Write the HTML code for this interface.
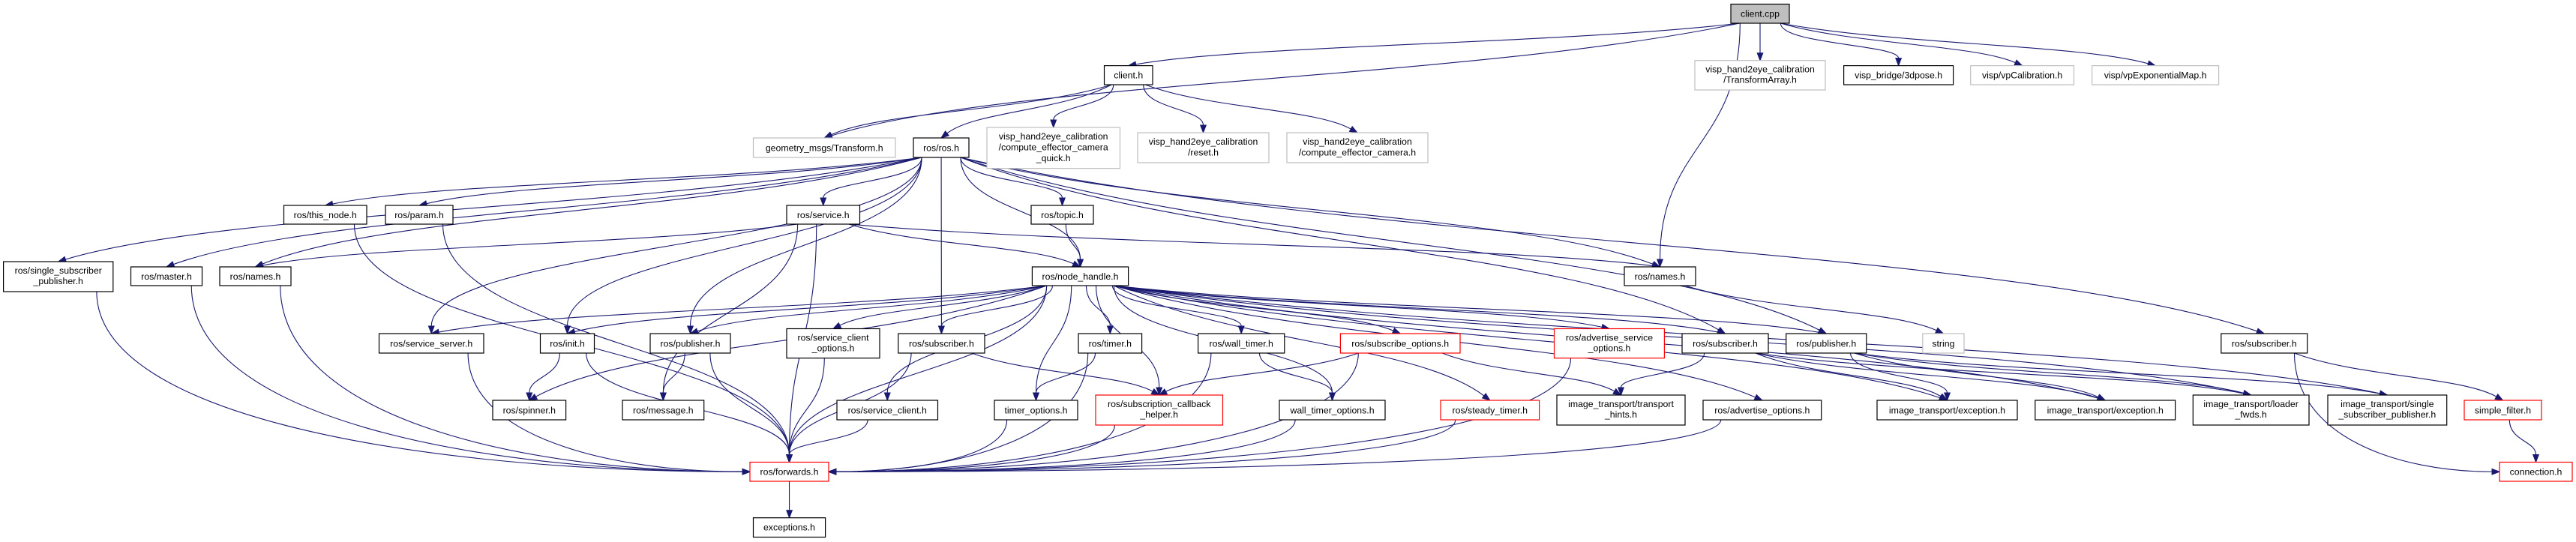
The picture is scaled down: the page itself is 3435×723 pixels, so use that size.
<!DOCTYPE html>
<html><head><meta charset="utf-8">
<style>
html,body{margin:0;padding:0;background:#fff;}
svg{display:block;}
text{font-family:"Liberation Sans",Arial,sans-serif;font-size:12.3px;fill:#000;text-anchor:middle;}
rect{fill:#fff;stroke:#000;stroke-width:1.2;}
rect.g{stroke:#bfbfbf;}
rect.r{stroke:#ff0000;}
rect.m{fill:#bfbfbf;}
</style></head>
<body>
<svg id="s" width="3435" height="723" viewBox="0 0 3435 723" xmlns="http://www.w3.org/2000/svg">
<g id="edges" fill="none" stroke="#191970" stroke-width="1.1"></g>
<g id="heads" fill="#191970" stroke="#191970" stroke-width="1"></g>
<g id="nodes">
<g id="cpp"><rect class="m" x="2308" y="5.5" width="78" height="25.5"/><text x="2347" y="22.5">client.cpp</text></g>
<g id="ch"><rect x="1472.5" y="87.6" width="64.5" height="25.4"/><text x="1504.7" y="104.5">client.h</text></g>
<g id="geo"><rect class="g" x="1004.5" y="184" width="189.5" height="26"/><text x="1099.2" y="201.5">geometry_msgs/Transform.h</text></g>
<g id="ta"><rect class="g" x="2260" y="80.7" width="174" height="39.3"/><text x="2347" y="96.5">visp_hand2eye_calibration</text><text x="2347" y="110.5">/TransformArray.h</text></g>
<g id="pose"><rect x="2458.6" y="87.6" width="146" height="25.4"/><text x="2531.6" y="104.5">visp_bridge/3dpose.h</text></g>
<g id="vpc"><rect class="g" x="2627.7" y="87.6" width="137.8" height="25.4"/><text x="2696.6" y="104.5">visp/vpCalibration.h</text></g>
<g id="vpe"><rect class="g" x="2789.6" y="87.6" width="169" height="25.4"/><text x="2874.1" y="104.5">visp/vpExponentialMap.h</text></g>
<g id="ros"><rect x="1218" y="184" width="74" height="26"/><text x="1255" y="201.5">ros/ros.h</text></g>
<g id="q"><rect class="g" x="1316" y="170" width="177.5" height="54.6"/><text x="1404.7" y="186">visp_hand2eye_calibration</text><text x="1404.7" y="200.5">/compute_effector_camera</text><text x="1404.7" y="215">_quick.h</text></g>
<g id="rst"><rect class="g" x="1517" y="177" width="175" height="40"/><text x="1604.5" y="193">visp_hand2eye_calibration</text><text x="1604.5" y="207.5">/reset.h</text></g>
<g id="cec"><rect class="g" x="1716" y="177" width="188" height="40"/><text x="1810" y="193">visp_hand2eye_calibration</text><text x="1810" y="207.5">/compute_effector_camera.h</text></g>
<g id="tn"><rect x="378.5" y="274" width="110.5" height="25"/><text x="433.7" y="291">ros/this_node.h</text></g>
<g id="par"><rect x="514" y="274" width="90" height="25"/><text x="559" y="291">ros/param.h</text></g>
<g id="srv"><rect x="1049" y="274" width="97.5" height="25"/><text x="1097.7" y="291">ros/service.h</text></g>
<g id="top"><rect x="1375" y="274" width="83" height="25"/><text x="1416.5" y="291">ros/topic.h</text></g>
<g id="ssp"><rect x="4.6" y="349" width="146.2" height="40"/><text x="77.7" y="365">ros/single_subscriber</text><text x="77.7" y="379">_publisher.h</text></g>
<g id="mas"><rect x="174.5" y="356" width="95" height="25"/><text x="222" y="373">ros/master.h</text></g>
<g id="nmL"><rect x="293" y="356" width="95" height="25"/><text x="340.5" y="373">ros/names.h</text></g>
<g id="nh"><rect x="1376.4" y="356" width="128.2" height="25"/><text x="1440.5" y="373">ros/node_handle.h</text></g>
<g id="nmR"><rect x="2166" y="356" width="95" height="25"/><text x="2213.5" y="373">ros/names.h</text></g>
<g id="ss"><rect x="505.5" y="445" width="139.5" height="26"/><text x="575.2" y="462.5">ros/service_server.h</text></g>
<g id="ini"><rect x="720.5" y="445" width="72" height="26"/><text x="756.5" y="462.5">ros/init.h</text></g>
<g id="pubL"><rect x="867" y="445" width="107" height="26"/><text x="920.5" y="462.5">ros/publisher.h</text></g>
<g id="sco"><rect x="1049" y="438.5" width="124" height="39.2"/><text x="1111" y="454.5">ros/service_client</text><text x="1111" y="468.5">_options.h</text></g>
<g id="subL"><rect x="1197.8" y="445" width="115.2" height="26"/><text x="1255.4" y="462.5">ros/subscriber.h</text></g>
<g id="tim"><rect x="1438" y="445" width="84.6" height="26"/><text x="1480.3" y="462.5">ros/timer.h</text></g>
<g id="wt"><rect x="1597.6" y="445" width="115.2" height="26"/><text x="1655.2" y="462.5">ros/wall_timer.h</text></g>
<g id="so"><rect class="r" x="1787.4" y="445" width="159.6" height="26"/><text x="1867.2" y="462.5">ros/subscribe_options.h</text></g>
<g id="aso"><rect class="r" x="2072.5" y="438.5" width="146.9" height="39.2"/><text x="2146" y="454.5">ros/advertise_service</text><text x="2146" y="468.5">_options.h</text></g>
<g id="subM"><rect x="2243" y="445" width="115" height="26"/><text x="2300.5" y="462.5">ros/subscriber.h</text></g>
<g id="pubM"><rect x="2381.7" y="445" width="107.1" height="26"/><text x="2435.2" y="462.5">ros/publisher.h</text></g>
<g id="str"><rect class="g" x="2563.8" y="445" width="55.2" height="26"/><text x="2591.4" y="462.5">string</text></g>
<g id="subR"><rect x="2961.8" y="445" width="114.9" height="26"/><text x="3019.2" y="462.5">ros/subscriber.h</text></g>
<g id="spin"><rect x="657" y="534" width="97.6" height="26"/><text x="705.8" y="551.5">ros/spinner.h</text></g>
<g id="msg"><rect x="830" y="534" width="108.7" height="26"/><text x="884.3" y="551.5">ros/message.h</text></g>
<g id="sc"><rect x="1116" y="534" width="134.5" height="26"/><text x="1183.2" y="551.5">ros/service_client.h</text></g>
<g id="to"><rect x="1326" y="534" width="111" height="26"/><text x="1381.5" y="551.5">timer_options.h</text></g>
<g id="sch"><rect class="r" x="1461" y="527" width="169.5" height="40"/><text x="1545.7" y="543">ros/subscription_callback</text><text x="1545.7" y="557">_helper.h</text></g>
<g id="wto"><rect x="1706" y="534" width="141" height="26"/><text x="1776.5" y="551.5">wall_timer_options.h</text></g>
<g id="st"><rect class="r" x="1921" y="534" width="131.6" height="26"/><text x="1986.8" y="551.5">ros/steady_timer.h</text></g>
<g id="th"><rect x="2076" y="527" width="171" height="40"/><text x="2161.5" y="543">image_transport/transport</text><text x="2161.5" y="557">_hints.h</text></g>
<g id="ao"><rect x="2271" y="534" width="157.7" height="26"/><text x="2349.8" y="551.5">ros/advertise_options.h</text></g>
<g id="ex1"><rect x="2503" y="534" width="187" height="26"/><text x="2596.5" y="551.5">image_transport/exception.h</text></g>
<g id="ex2"><rect x="2713.8" y="534" width="186.8" height="26"/><text x="2807.2" y="551.5">image_transport/exception.h</text></g>
<g id="lf"><rect x="2924.3" y="527" width="154.7" height="40"/><text x="3001.6" y="543">image_transport/loader</text><text x="3001.6" y="557">_fwds.h</text></g>
<g id="itssp"><rect x="3104" y="527" width="158.7" height="40"/><text x="3183.3" y="543">image_transport/single</text><text x="3183.3" y="557">_subscriber_publisher.h</text></g>
<g id="sf"><rect class="r" x="3286" y="534" width="103" height="26"/><text x="3337.5" y="551.5">simple_filter.h</text></g>
<g id="fwd"><rect class="r" x="1000" y="616.5" width="105" height="25.5"/><text x="1052.5" y="633.5">ros/forwards.h</text></g>
<g id="con"><rect class="r" x="3333" y="616.5" width="97" height="25.5"/><text x="3381.5" y="633.5">connection.h</text></g>
<g id="exc"><rect x="1004.5" y="690.7" width="96.1" height="25.8"/><text x="1052.5" y="707.5">exceptions.h</text></g>
</g>
</svg>
<script>
(function(){
var E=[
"cpp ch","cpp geo","cpp nmR","cpp ta","cpp pose","cpp vpc","cpp vpe",
"ch ros","ch geo","ch q","ch rst","ch cec",
"ros ssp","ros mas","ros nmL","ros tn","ros par","ros srv","ros top","ros nh","ros nmR","ros ss","ros ini","ros pubL","ros subL","ros subM","ros pubM","ros subR",
"srv nmL","srv nh","srv msg","srv fwd","srv nmR",
"top nh",
"tn fwd","par fwd","ssp fwd","mas fwd","nmL fwd",
"nh ss","nh ini","nh pubL","nh sco","nh subL","nh sc","nh tim","nh wt","nh so","nh aso","nh subM","nh pubM","nh to","nh sch","nh wto","nh st","nh ao","nh fwd","nh spin","nh ex1","nh ex2","nh lf","nh itssp",
"ss fwd","ini spin","ini fwd","pubL msg","pubL fwd","sco fwd","subL fwd","subL sch","tim to","tim fwd","wt wto","wt fwd",
"so sch","so th","so fwd","aso fwd","subM th","subM ex1","subM ex2","subM lf","pubM ex1","pubM ex2","pubM lf","pubM itssp",
"sc fwd","to fwd","sch fwd","wto fwd","st fwd","ao fwd","nmR str","subR sf","subR con","sf con","fwd exc"
];
var NS="http://www.w3.org/2000/svg";
function box(id){var r=document.querySelector("#"+id+" rect");return {x:+r.getAttribute("x"),y:+r.getAttribute("y"),w:+r.getAttribute("width"),h:+r.getAttribute("height")};}
var eg=document.getElementById("edges"),hg=document.getElementById("heads");
E.forEach(function(s){
 var p=s.split(" "),a=box(p[0]),b=box(p[1]);
 var x0,y0,x3,y3,c1x,c1y,c2x,c2y;
 var acx=a.x+a.w/2,bcx=b.x+b.w/2;
 x0=acx+Math.max(-a.w*0.35,Math.min(a.w*0.35,(bcx-acx)*0.2));
 y0=a.y+a.h;
 var sideT=(p[1]=="fwd"||p[1]=="con");
 if(sideT && Math.abs(bcx-x0)>2.2*(b.y-y0) && Math.abs(bcx-x0)>150){
   var right=bcx>x0;
   x3=right?b.x:b.x+b.w; y3=b.y+b.h/2;
   var dy=y3-y0;
   c1x=x0;c1y=y0+dy*0.7;c2x=x3+(x0-x3)*0.5;c2y=y3;
 } else {
   x3=bcx; y3=b.y;
   var dy=y3-y0;
   c1x=x0;c1y=y0+dy*0.5;c2x=x3;c2y=y3-dy*0.5;
   if(Math.abs(x3-x0)>3*dy){c1x=x0+(x3-x0)*0.3;c2x=x3-(x3-x0)*0.2;}
 }
 var tx=x3-c2x,ty=y3-c2y,L=Math.sqrt(tx*tx+ty*ty)||1;tx/=L;ty/=L;
 var al=10,aw=3.8;
 var bx=x3-tx*al,by=y3-ty*al;
 var path=document.createElementNS(NS,"path");
 path.setAttribute("d","M"+x0+","+y0+" C"+c1x+","+c1y+" "+c2x+","+c2y+" "+bx+","+by);
 eg.appendChild(path);
 var poly=document.createElementNS(NS,"polygon");
 poly.setAttribute("points",x3+","+y3+" "+(bx-ty*aw)+","+(by+tx*aw)+" "+(bx+ty*aw)+","+(by-tx*aw));
 hg.appendChild(poly);
});
})();
</script>
</body></html>
